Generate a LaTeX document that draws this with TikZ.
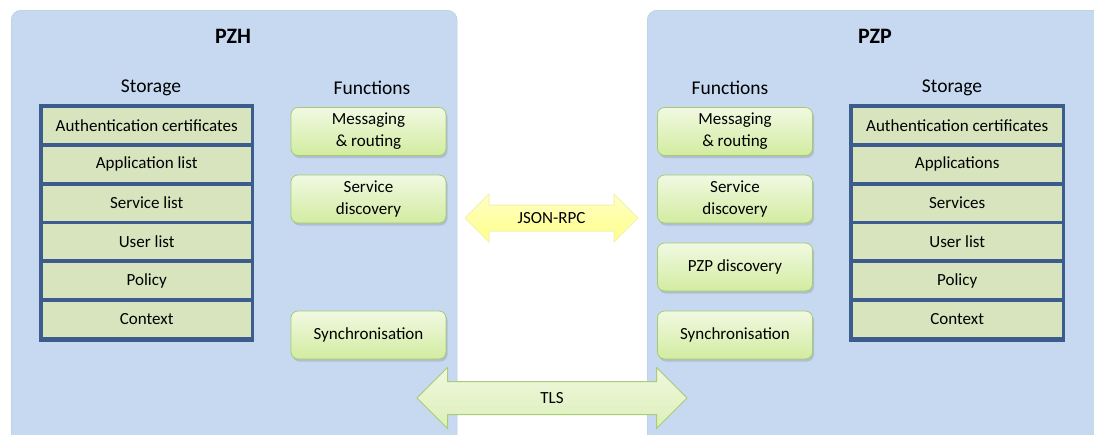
\documentclass[tikz,border=0pt]{standalone}
\usepackage{fontspec}
\setmainfont{Carlito}
\usetikzlibrary{shapes.arrows,shadows}

\definecolor{panelblue}{HTML}{C6D9F1}
\definecolor{storeframe}{HTML}{3B5C8C}
\definecolor{storerow}{HTML}{D7E4BD}
\definecolor{funcborder}{HTML}{A6CB6E}
\definecolor{functop}{HTML}{F1F9E2}
\definecolor{funcbot}{HTML}{D2ECA0}
\definecolor{rpctop}{HTML}{FFFFC4}
\definecolor{rpcbot}{HTML}{FFFF8A}
\definecolor{rpcborder}{HTML}{F2F2B0}
\definecolor{tlstop}{HTML}{EFF8DF}
\definecolor{tlsbot}{HTML}{DCEFB8}
\definecolor{tlsborder}{HTML}{A9CC74}

\tikzset{
  panel/.style={fill=panelblue, rounded corners=10pt, anchor=north west,
    inner sep=0pt, draw=panelblue!80!gray, line width=0.4pt},
  title/.style={font=\fontsize{22}{26}\selectfont\bfseries},
  heading/.style={font=\fontsize{19.5}{23}\selectfont},
  storeframe/.style={fill=storeframe, anchor=north west, inner sep=0pt,
    minimum width=215pt, minimum height=238pt},
  storerow/.style={fill=storerow, anchor=north west, inner sep=0pt,
    minimum width=208pt, minimum height=35pt,
    font=\fontsize{17}{21}\selectfont},
  funcbox/.style={draw=funcborder, line width=0.8pt, rounded corners=7pt,
    top color=functop, bottom color=funcbot,
    minimum width=155pt, minimum height=48pt, inner sep=0pt,
    align=center, font=\fontsize{17}{22}\selectfont,
    drop shadow={shadow xshift=1.5pt, shadow yshift=-2.5pt, opacity=0.3}},
  linkarrow/.style={double arrow, double arrow tip angle=90,
    double arrow head indent=0pt, font=\fontsize{17}{21}\selectfont,
    text height=11pt, text depth=1pt, inner xsep=0pt}
}

\begin{document}
\begin{tikzpicture}[x=1pt,y=-1pt]
\useasboundingbox (0,0) rectangle (1094,434);
\clip (0,0) rectangle (1094,434);

% the two hosts
\node[panel, minimum width=446pt, minimum height=440pt] (pzh) at (11,10) {};
\node[panel, minimum width=470pt, minimum height=440pt] (pzp) at (647,10) {};
\node[title] (pzhT) at (233,36) {PZH};
\node[title] (pzpT) at (875,36) {PZP};

% PZH storage
\node[heading] (pzhStoreT) at (151,88) {Storage};
\node[storeframe] (pzhStore) at (39,104) {};
\foreach \t [count=\i from 0] in {Authentication certificates, Application list,
    Service list, User list, Policy, Context}
  \node[storerow] (pzhRow\i) at (42.5,108+38.7*\i) {\t};

% PZH functions
\node[heading] (pzhFuncT) at (372,88) {Functions};
\node[funcbox] (pzhMsg) at (368.5,131.5) {Messaging\\ \& routing};
\node[funcbox] (pzhSd) at (368.5,199) {Service\\ discovery};
\node[funcbox] (pzhSync) at (368.5,335) {Synchronisation};

% PZP functions
\node[heading] (pzpFuncT) at (730,88) {Functions};
\node[funcbox] (pzpMsg) at (735,131.5) {Messaging\\ \& routing};
\node[funcbox] (pzpSd) at (735,199) {Service\\ discovery};
\node[funcbox] (pzpPd) at (735,267) {PZP discovery};
\node[funcbox] (pzpSync) at (735,335) {Synchronisation};

% PZP storage
\node[heading] (pzpStoreT) at (952,88) {Storage};
\node[storeframe, minimum width=216pt] (pzpStore) at (849,104) {};
\foreach \t [count=\i from 0] in {Authentication certificates, Applications,
    Services, User list, Policy, Context}
  \node[storerow, minimum width=209pt] (pzpRow\i) at (852.5,108+38.7*\i) {\t};

% links between the hosts
\node[linkarrow, draw=rpcborder, line width=1pt, top color=rpctop, bottom color=rpcbot,
  minimum height=173pt, inner ysep=6.5pt, double arrow head extend=11pt]
  (rpc) at (551.5,218) {JSON-RPC};
\node[linkarrow, draw=tlsborder, line width=1pt, top color=tlstop, bottom color=tlsbot,
  minimum height=270pt, inner ysep=10pt, double arrow head extend=14pt]
  (tls) at (552,398) {TLS};
\end{tikzpicture}
\end{document}
